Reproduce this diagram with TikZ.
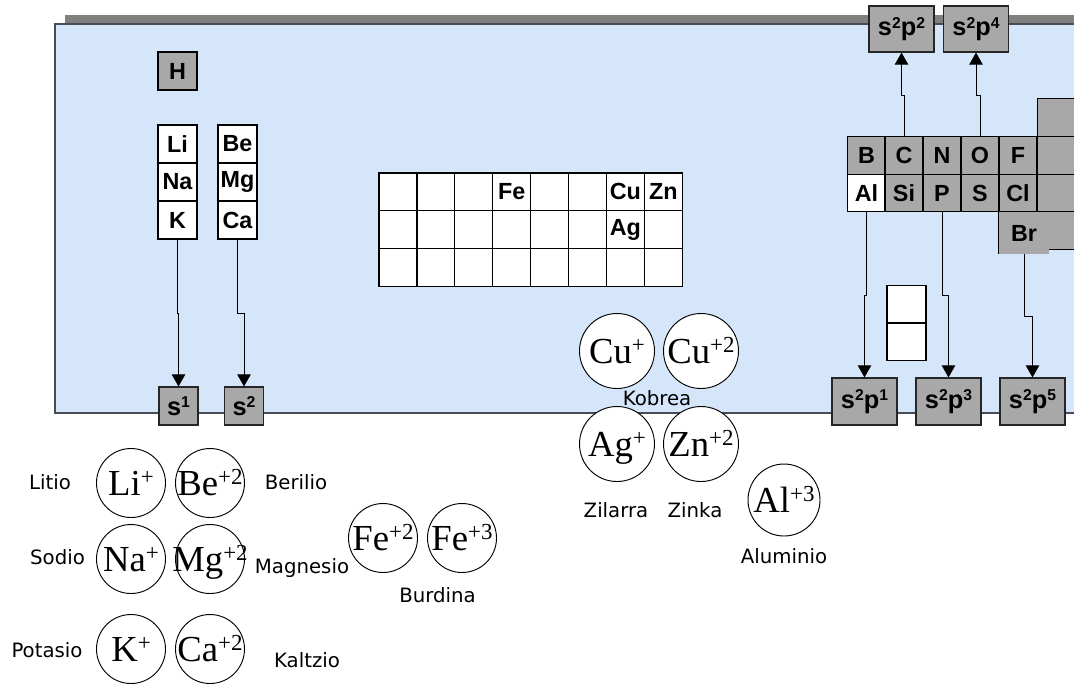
\documentclass[tikz,border=0pt]{standalone}
\usepackage{fontspec}
\setmainfont{Liberation Serif}
\newfontfamily\boxfont{Liberation Sans}
\newfontfamily\lblfont{DejaVu Sans}
\usetikzlibrary{arrows.meta}
\definecolor{panelblue}{RGB}{213,230,250}
\definecolor{boxgray}{RGB}{168,168,168}
\definecolor{bargray}{RGB}{128,128,128}
\definecolor{edgegray}{RGB}{72,76,86}
\newcommand\elfont{\boxfont\bfseries\fontsize{17.5pt}{20pt}\selectfont}
\newcommand\sbfont{\boxfont\bfseries\fontsize{19pt}{22pt}\selectfont}
\newcommand\bsup[1]{\raisebox{5.8pt}{\fontsize{11.8pt}{12pt}\selectfont #1}}
\newcommand\ionfont{\fontsize{27.5pt}{28pt}\selectfont}
\newcommand\ionsup[1]{\raisebox{7.8pt}{\fontsize{17.2pt}{17pt}\selectfont #1}}
\begin{document}
\begin{tikzpicture}[x=0.75pt,y=-0.75pt,
  elem/.style={draw=black, line width=0.9pt, fill=white, inner sep=0pt,
    minimum width=29.25pt, minimum height=28.5pt, font=\elfont},
  elemg/.style={elem, fill=boxgray},
  pcell/.style={elem, minimum width=28.5pt, minimum height=28pt},
  pcellg/.style={pcell, fill=boxgray},
  tcell/.style={draw=black, line width=0.9pt, fill=white, inner sep=0pt,
    minimum width=28.4pt, minimum height=28.3pt},
  sbox/.style={draw=black!85, line width=0.8pt, fill=boxgray, inner sep=0pt,
    minimum width=29.25pt, minimum height=28.5pt, font=\sbfont},
  spbox/.style={sbox, minimum width=48.75pt, minimum height=34.5pt},
  arr/.style={draw=black, line width=0.75pt, -{Triangle[width=10pt,length=9pt]}},
  ion/.style={circle, draw=black, line width=0.7pt, fill=white, inner sep=0pt, minimum size=51.75pt},
  ionb/.style={ion, minimum size=56.25pt},
  ionm/.style={ion, minimum size=54pt},
  iontxt/.style={inner sep=0pt, text height=18.2pt, text depth=0pt, font=\ionfont},
  lbl/.style={anchor=base, inner sep=0pt, font=\lblfont\fontsize{14.8pt}{17pt}\selectfont}
]
\useasboundingbox (0,0) rectangle (1074,687);
% panel
\fill[bargray] (65,15) rectangle (1090,24);
\filldraw[fill=panelblue, draw=edgegray, line width=0.9pt] (55,24) rectangle (1090,413);

% s-block
\node[elemg] (h) at (177.5,71) {H};
\node[elem] (li) at (177.5,144) {Li};
\node[elem] (na) at (177.5,182) {Na};
\node[elem] (k) at (177.5,220) {K};
\node[elem] (be) at (237.5,144) {Be};
\node[elem] (mg) at (237.5,182) {Mg};
\node[elem] (ca) at (237.5,220) {Ca};
\node[sbox] (s1) at (178.5,406) {s\bsup{1}};
\node[sbox] (s2) at (244,406) {s\bsup{2}};
\coordinate (jogs) at (0,313);
\draw[arr] (k.south) -- (k.south |- jogs) -- (s1.north |- jogs) -- (s1.north);
\draw[arr] (ca.south) -- (ca.south |- jogs) -- (s2.north |- jogs) -- (s2.north);

% d-block table
\foreach \i in {0,...,7} \foreach \j in {0,1,2}
  \node[tcell] (t\i\j) at ({379+37.9*(\i+0.5)},{173+37.7*(\j+0.5)}) {};
\node[font=\elfont, inner sep=0pt] (fe) at (t30) {Fe};
\node[font=\elfont, inner sep=0pt] (cu) at (t60) {Cu};
\node[font=\elfont, inner sep=0pt] (zn) at (t70) {Zn};
\node[font=\elfont, inner sep=0pt] (ag) at (t61) {Ag};

% p-block
\node[pcellg, minimum width=40pt, anchor=west] (ng0) at (1037,117.5) {};
\node[pcellg, minimum width=40pt, anchor=west] (ng1) at (1037,155.5) {};
\node[pcellg, minimum width=40pt, anchor=west] (ng2) at (1037,193) {};
\node[pcellg, minimum width=40pt, anchor=west] (ng3) at (1037,230.5) {};
\node[fill=boxgray, inner sep=0pt, minimum width=37.5pt, minimum height=31.5pt, font=\elfont] (br) at (1024,233) {Br};
\draw[line width=0.9pt] (br.north west) -- (br.south west);
\node[pcellg] (b) at (866.5,155.5) {B};
\node[pcellg] (c) at (904,155.5) {C};
\node[pcellg] (n) at (942,155.5) {N};
\node[pcellg] (o) at (980,155.5) {O};
\node[pcellg] (f) at (1018,155.5) {F};
\node[pcell] (al) at (866.5,193) {Al};
\node[pcellg] (si) at (904,193) {Si};
\node[pcellg] (p) at (942,193) {P};
\node[pcellg] (s) at (980,193) {S};
\node[pcellg] (cl) at (1018,193) {Cl};

\node[tcell, minimum width=29.25pt] (w1) at (906.5,304) {};
\node[tcell, minimum width=29.25pt] (w2) at (906.5,342) {};

\node[spbox] (sp2) at (901.5,29) {s\bsup{2}p\bsup{2}};
\node[spbox] (sp4) at (976,29) {s\bsup{2}p\bsup{4}};
\node[spbox, minimum height=35.25pt] (sp1) at (864.5,401.5) {s\bsup{2}p\bsup{1}};
\node[spbox, minimum height=35.25pt] (sp3) at (948.5,401.5) {s\bsup{2}p\bsup{3}};
\node[spbox, minimum height=35.25pt] (sp5) at (1032.5,401.5) {s\bsup{2}p\bsup{5}};
\coordinate (jogu) at (0,95);
\coordinate (jogd) at (0,295);
\coordinate (jogb) at (0,316);
\draw[arr] (c.north) -- (c.north |- jogu) -- (sp2.south |- jogu) -- (sp2.south);
\draw[arr] (o.north) -- (o.north |- jogu) -- (sp4.south |- jogu) -- (sp4.south);
\draw[arr] (al.south) -- (al.south |- jogd) -- (sp1.north |- jogd) -- (sp1.north);
\draw[arr] (p.south) -- (p.south |- jogd) -- (sp3.north |- jogd) -- (sp3.north);
\draw[arr] (br.south) -- (br.south |- jogb) -- (sp5.north |- jogb) -- (sp5.north);

% ions
\node[ion] (ili) at (131,483) {};  \node[iontxt] (tli) at (ili) {Li\ionsup{+}};
\node[ion] (ibe) at (210,483) {};  \node[iontxt] (tbe) at (ibe) {Be\ionsup{+2}};
\node[ion] (ina) at (131,559) {};  \node[iontxt] (tna) at (ina) {Na\ionsup{+}};
\node[ion] (img) at (210,559) {};  \node[iontxt] (tmg) at (img) {Mg\ionsup{+2}};
\node[ion] (ik) at (131,649) {};   \node[iontxt] (tk) at (ik) {K\ionsup{+}};
\node[ion] (ica) at (210,649) {};  \node[iontxt] (tca) at (ica) {Ca\ionsup{+2}};
\node[ion] (ife2) at (383,538) {}; \node[iontxt] (tfe2) at (ife2) {Fe\ionsup{+2}};
\node[ion] (ife3) at (462,538) {}; \node[iontxt] (tfe3) at (ife3) {Fe\ionsup{+3}};
\node[ionb] (icu1) at (617,351) {}; \node[iontxt] (tcu1) at (icu1) {Cu\ionsup{+}};
\node[ionb] (icu2) at (701,351) {}; \node[iontxt] (tcu2) at (icu2) {Cu\ionsup{+2}};
\node[ionb] (iag) at (617,444) {};  \node[iontxt] (tag) at (iag) {Ag\ionsup{+}};
\node[ionb] (izn) at (701,444) {};  \node[iontxt] (tzn) at (izn) {Zn\ionsup{+2}};
\node[ionm] (ial) at (784,500) {};  \node[iontxt] (tal) at (ial) {Al\ionsup{+3}};

% labels
\node[lbl] (llitio) at (50,489) {Litio};
\node[lbl] (lsodio) at (57.5,564) {Sodio};
\node[lbl] (lpotasio) at (47,657) {Potasio};
\node[lbl] (lberilio) at (296,489) {Berilio};
\node[lbl] (lmagnesio) at (302,573) {Magnesio};
\node[lbl] (lkaltzio) at (307,667) {Kaltzio};
\node[lbl] (lburdina) at (437.5,602) {Burdina};
\node[lbl] (lkobrea) at (657,405) {Kobrea};
\node[lbl] (lzilarra) at (616,517) {Zilarra};
\node[lbl] (lzinka) at (695,517) {Zinka};
\node[lbl] (lalum) at (784,563) {Aluminio};
\end{tikzpicture}
\end{document}
